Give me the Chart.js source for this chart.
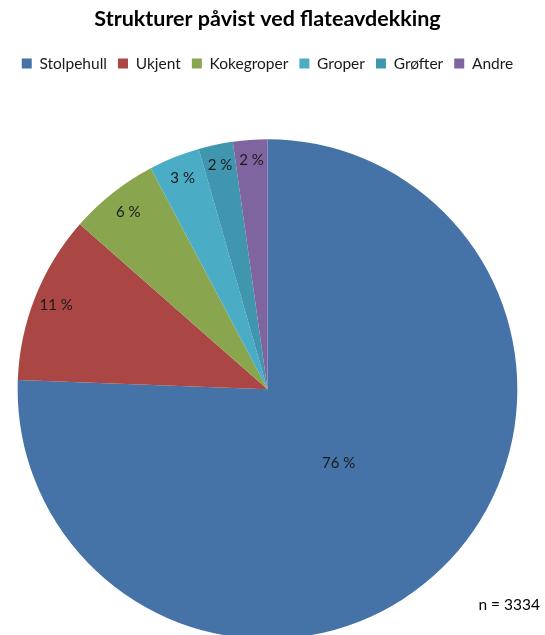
<!DOCTYPE html>
<html>
<head>
<meta charset="utf-8">
<script src="https://cdn.jsdelivr.net/npm/chart.js@4"></script>
<style>
  html, body { margin: 0; padding: 0; background: #fff; overflow: hidden; }
  #wrap { width: 545px; height: 650px; position: relative; }
</style>
</head>
<body>
<div id="wrap"><canvas id="pie"></canvas></div>
<script>
const categories = ["Stolpehull", "Ukjent", "Kokegroper", "Groper", "Grøfter", "Andre"];
const counts = [2520, 363, 193, 110, 74, 74];
const colors = ["#4572a7", "#aa4643", "#89a54e", "#4bacc6", "#3f96ae", "#7f659f"];
const total = 3334;

// how far out (fraction of radius) each percent label sits
const labelRadius = [0.41, 0.91, 0.9, 0.91, 0.915, 0.92];

const font = "Lato, 'Open Sans', sans-serif";

// extra room under the legend before the pie starts
const legendGap = {
  id: "legendGap",
  beforeInit(chart) {
    const fit = chart.legend.fit;
    chart.legend.fit = function () {
      fit.bind(chart.legend)();
      this.height += 58;
    };
  }
};

const sliceLabels = {
  id: "sliceLabels",
  afterDatasetsDraw(chart) {
    const ctx = chart.ctx;
    const meta = chart.getDatasetMeta(0);
    ctx.save();
    ctx.font = "15px " + font;
    ctx.fillStyle = "#1a1a1a";
    ctx.textAlign = "center";
    ctx.textBaseline = "middle";
    meta.data.forEach((arc, i) => {
      const p = arc.getProps(["x", "y", "startAngle", "endAngle", "outerRadius"], true);
      const mid = (p.startAngle + p.endAngle) / 2;
      const r = p.outerRadius * labelRadius[i];
      const pct = Math.round(counts[i] / total * 100);
      ctx.fillText(pct + " %", p.x + Math.cos(mid) * r, p.y + Math.sin(mid) * r);
    });
    ctx.font = "15.5px " + font;
    ctx.fillStyle = "#000";
    ctx.textAlign = "right";
    ctx.fillText("n = " + total, 540, 605);
    ctx.restore();
  }
};

new Chart(document.getElementById("pie"), {
  type: "pie",
  data: {
    labels: categories,
    datasets: [{
      data: counts,
      backgroundColor: colors,
      borderWidth: 0
    }]
  },
  options: {
    responsive: true,
    maintainAspectRatio: false,
    animation: false,
    layout: { padding: { left: 0, right: 10, top: 0, bottom: 11 } },
    plugins: {
      title: {
        display: true,
        text: "Strukturer påvist ved flateavdekking",
        color: "#000",
        font: { family: font, size: 21.5, weight: "bold" },
        padding: { top: 6, bottom: 13 }
      },
      legend: {
        position: "top",
        labels: {
          boxWidth: 10,
          boxHeight: 10,
          padding: 11,
          color: "#1a1a1a",
          font: { family: font, size: 15.5 }
        }
      },
      tooltip: { enabled: false }
    }
  },
  plugins: [legendGap, sliceLabels]
});
</script>
</body>
</html>
